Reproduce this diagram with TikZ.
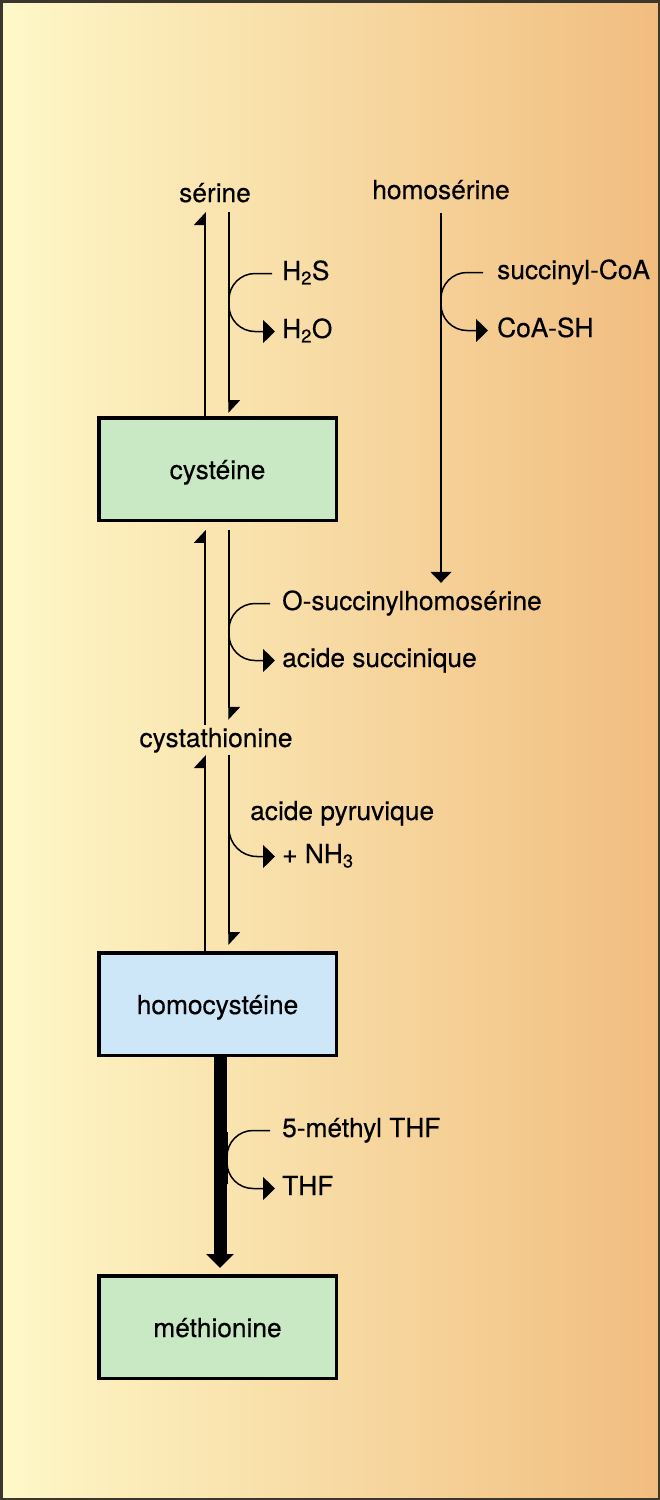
\documentclass[tikz,border=0pt]{standalone}
\usepackage{fontspec}
\setmainfont{TeX Gyre Heros}
\newfontfamily\labfam[FakeBold=0.35]{TeX Gyre Heros}
\usetikzlibrary{arrows.meta,calc}
\definecolor{bgL}{RGB}{254,248,200}
\definecolor{bgR}{RGB}{241,189,127}
\definecolor{boxG}{RGB}{201,232,196}
\definecolor{boxB}{RGB}{205,230,248}
\definecolor{frameC}{RGB}{60,55,45}
\newcommand{\labfont}{\labfam\fontsize{26.3}{31}\selectfont}
\tikzset{
  lab/.style={inner sep=0pt, text height=18pt, text depth=5pt, font=\labfont},
  box/.style={draw=black, line width=3.5pt, minimum width=237.5pt, minimum height=102.5pt,
              inner sep=0pt, text height=22pt, text depth=2pt, font=\labfont},
  thinline/.style={line width=1.5pt, black},
  half/.style={thinline, -{Triangle[harpoon, length=12pt, width=22pt]}},
  full/.style={thinline, -{Triangle[length=11pt, width=21pt]}},
  side/.style={thinline, -{Triangle[length=12pt, width=23pt]}},
  boldarrow/.style={line width=13pt, black, -{Triangle[length=14pt, width=27pt]}}
}
\begin{document}
\begin{tikzpicture}[x=1pt,y=-1pt]
\useasboundingbox (0,0) rectangle (660,1500);
\shade[left color=bgL, right color=bgR] (0,0) rectangle (660,1500);
\draw[frameC, line width=2.5pt] (1.25,1.25) rectangle (658.75,1498.75);

% labels and boxes
\node[lab, anchor=base] (ser) at (215,202) {sérine};
\node[lab, anchor=base] (hser) at (441,199) {homosérine};
\node[lab, anchor=base west] (h2s) at (282,280) {H\textsubscript{2}S};
\node[lab, anchor=base west] (h2o) at (282,338) {H\textsubscript{2}O};
\node[lab, anchor=base west] (sucoa) at (497,279) {succinyl-CoA};
\node[lab, anchor=base west] (coash) at (497,337) {CoA-SH};
\node[box, fill=boxG] (cys) at (217.5,469) {cystéine};
\node[lab, anchor=base west] (osh) at (282,610) {O-succinylhomosérine};
\node[lab, anchor=base west] (asuc) at (282,667) {acide succinique};
\node[lab, anchor=base] (cysta) at (216,747) {cystathionine};
\node[lab, anchor=base west] (apyr) at (250,820) {acide pyruvique};
\node[lab, anchor=base west] (nh3) at (282,863) {+ NH\textsubscript{3}};
\node[box, fill=boxB] (hcys) at (217.5,1004) {homocystéine};
\node[lab, anchor=base west] (mthf) at (282,1137) {5-méthyl THF};
\node[lab, anchor=base west] (thf) at (282,1195) {THF};
\node[box, fill=boxG] (met) at (217.5,1327) {méthionine};

% reference x positions of the vertical lines
\coordinate (L) at (205,0);
\coordinate (R) at (229,0);
\coordinate (B) at (220,0);

% serine <-> cysteine
\draw[half, shorten >=5pt] (L |- cys.north) -- (L |- ser.south);
\draw[half, shorten <=5pt, shorten >=3pt] (R |- ser.south) -- (R |- cys.north);
% cysteine <-> cystathionine
\draw[half, shorten <=4pt, shorten >=8pt] (L |- cysta.north) -- (L |- cys.south);
\draw[half, shorten <=8pt, shorten >=9pt] (R |- cys.south) -- (R |- cysta.north);
% cystathionine <-> homocysteine
\draw[half, shorten >=3pt] (L |- hcys.north) -- (L |- cysta.south);
\draw[half, shorten <=3pt, shorten >=6pt] (R |- cysta.south) -- (R |- hcys.north);
% homoserine -> O-succinylhomoserine
\draw[full, shorten <=9pt, shorten >=9pt] (hser.south) -- (hser.south |- osh.north);
% homocysteine => methionine
\draw[boldarrow, shorten >=6pt] (B |- hcys.south) -- (B |- met.north);

% side reactions
\coordinate (k1) at (229,300);
\draw[side] ([xshift=-10pt]h2s.west) {[rounded corners=26pt] -| (k1) |- ([xshift=-7pt]h2o.west)};
\coordinate (k2) at (441,301);
\draw[side] ([xshift=-14pt]sucoa.west) {[rounded corners=26pt] -| (k2) |- ([xshift=-9pt]coash.west)};
\coordinate (k3) at (229,631);
\draw[side] ([xshift=-12pt]osh.west) {[rounded corners=26pt] -| (k3) |- ([xshift=-7pt]asuc.west)};
\coordinate (k4) at (229,827);
\draw[side] (k4) {[rounded corners=28pt] |- ([xshift=-7pt]nh3.west)};
\coordinate (k5) at (227,1158);
\draw[side] ([xshift=-12pt]mthf.west) {[rounded corners=26pt] -| (k5) |- ([xshift=-7pt]thf.west)};
\end{tikzpicture}
\end{document}
